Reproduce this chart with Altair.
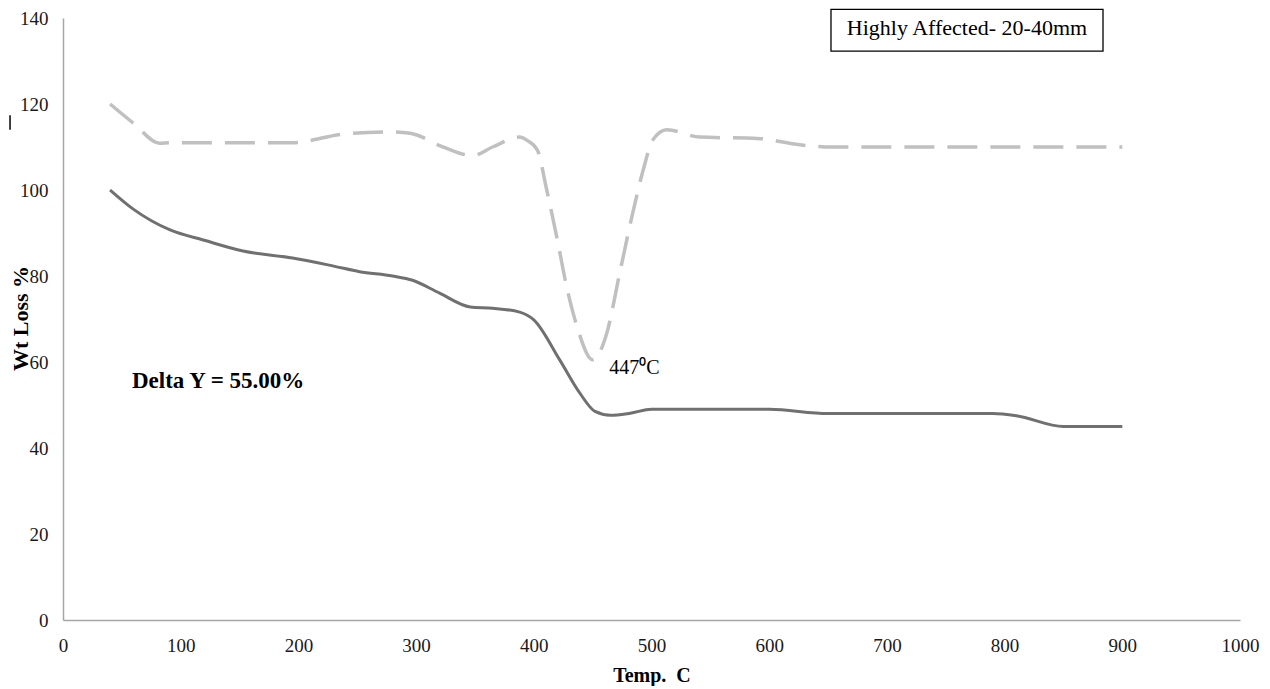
import altair as alt
import pandas as pd

# Solid curve: weight loss (%) vs temperature (C)
solid_temp = [40, 60, 91, 120, 153, 195, 230, 252, 280, 297, 320, 346, 365, 388, 400,
              422, 439, 452, 465, 482, 500, 550, 600, 650, 700, 750, 790, 810, 850, 900]
solid_wt = [100, 95.5, 90.7, 88.3, 85.8, 84.2, 82.3, 81, 80, 79, 76, 72.8, 72.5, 71.6, 69.8,
            60.5, 52.8, 48.5, 47.6, 48.1, 49, 49, 49, 48, 48, 48, 48, 47.5, 45, 45]

# Dashed curve
dashed_temp = [40, 60, 82, 91, 150, 195, 238, 280, 295, 323, 348, 365, 388, 394, 403, 411,
               420, 428, 437, 450, 462, 473, 484, 493, 501, 513, 541, 590, 626, 654, 700,
               800, 900]
dashed_wt = [120, 115.5, 110.9, 111, 111, 111, 113, 113.5, 113.2, 110, 108, 110, 112.3, 111.6,
             109.3, 100, 88.4, 77.4, 68, 60.5, 66.7, 80.7, 94.6, 104.7, 111.6, 114, 112.3, 112,
             110.5, 110, 110, 110, 110]

x_ticks = list(range(0, 1001, 100))
y_ticks = list(range(0, 141, 20))

FONT = "Liberation Serif"

solid_df = pd.DataFrame({"temp": solid_temp, "wt": solid_wt})
dashed_df = pd.DataFrame({"temp": dashed_temp, "wt": dashed_wt})

x_scale = alt.Scale(domain=[0, 1000], nice=False, zero=False)
y_scale = alt.Scale(domain=[0, 140], nice=False, zero=False)

x_axis = alt.Axis(values=x_ticks, format="d", title="Temp.\u00a0 C", ticks=False, grid=False,
                  domainColor="#a6a6a6", domainWidth=1.5,
                  labelFont=FONT, labelFontSize=19, labelColor="#1a1a1a", labelPadding=16,
                  labelFlush=False,
                  titleFont=FONT, titleFontSize=20, titleFontWeight="bold",
                  titleColor="#000000", titleY=55, titleBaseline="middle")
y_axis = alt.Axis(values=y_ticks, format="d", title="Wt Loss %", ticks=False, grid=False,
                  domainColor="#a6a6a6", domainWidth=1.5,
                  labelFont=FONT, labelFontSize=19, labelColor="#1a1a1a", labelPadding=15,
                  labelFlush=False,
                  titleFont=FONT, titleFontSize=22, titleFontWeight="bold",
                  titleColor="#000000", titleX=-43, titleY=300, titleAngle=-90,
                  titleAlign="center", titleBaseline="middle")

X = alt.X("temp:Q", scale=x_scale, axis=x_axis)
Y = alt.Y("wt:Q", scale=y_scale, axis=y_axis)

solid = alt.Chart(solid_df).mark_line(
    color="#707070", strokeWidth=3, interpolate="monotone"
).encode(x=X, y=Y)

dashed = alt.Chart(dashed_df).mark_line(
    color="#c0c0c0", strokeWidth=3.5, strokeDash=[30, 13], interpolate="monotone"
).encode(x=X, y=Y)

# Annotations
box_df = pd.DataFrame({"temp": [652.5], "temp2": [883.6], "wt": [142.0], "wt2": [132.3]})
box = alt.Chart(box_df).mark_rect(
    fill="white", stroke="#000000", strokeWidth=1.3, clip=False
).encode(x=X, x2="temp2:Q", y=Y, y2="wt2:Q")

box_text_df = pd.DataFrame({"temp": [768], "wt": [137.6], "label": ["Highly Affected- 20-40mm"]})
box_text = alt.Chart(box_text_df).mark_text(
    font=FONT, fontSize=22, color="#000000", align="center", baseline="middle"
).encode(x=X, y=Y, text="label:N")

delta_df = pd.DataFrame({"temp": [58.6], "wt": [55.6], "label": ["Delta Y = 55.00%"]})
delta = alt.Chart(delta_df).mark_text(
    font=FONT, fontSize=23, fontWeight="bold", color="#000000", align="left", baseline="middle"
).encode(x=X, y=Y, text="label:N")

peak_df = pd.DataFrame({"temp": [464], "wt": [58.6], "label": ["447\u2070C"]})
peak = alt.Chart(peak_df).mark_text(
    font=FONT, fontSize=20, color="#000000", align="left", baseline="middle"
).encode(x=X, y=Y, text="label:N")

mark_df = pd.DataFrame({"temp": [-45], "wt": [114.0], "wt2": [117.4]})
stray = alt.Chart(mark_df).mark_rule(color="#000000", strokeWidth=1.5, clip=False).encode(
    x=X, y=Y, y2="wt2:Q"
)

chart = alt.layer(dashed, solid, box, box_text, delta, peak, stray).properties(
    width=1177,
    height=602,
    autosize=alt.AutoSizeParams(type="none"),
    padding={"left": 55, "top": 10, "right": 22, "bottom": 66},
    background="white",
).configure_view(stroke=None)

chart.save("out.html", embed_options={"renderer": "svg", "actions": False})
